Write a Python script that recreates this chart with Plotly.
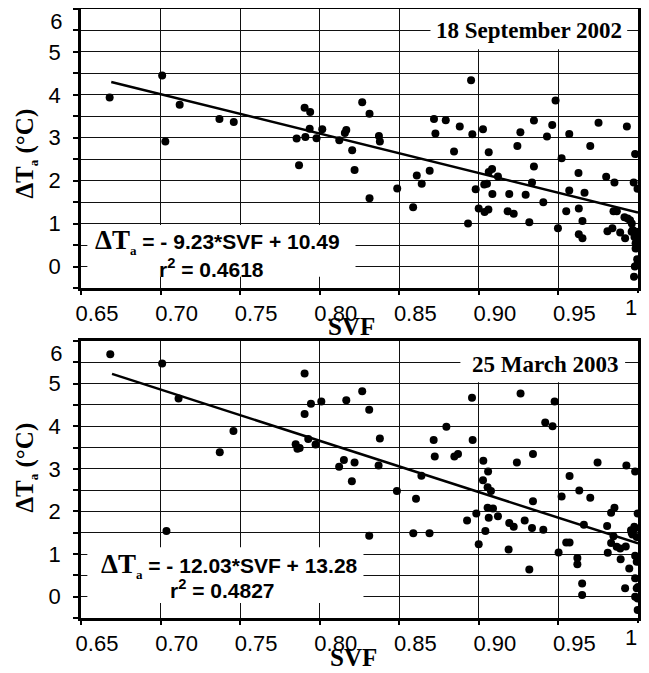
import plotly.graph_objects as go

# ---------------- data ----------------
svf_sep = [0.668, 0.701, 0.703, 0.712, 0.737, 0.746,
           0.7855, 0.787, 0.7905, 0.794, 0.791, 0.7937, 0.798, 0.8016,
           0.8123, 0.8158, 0.8167, 0.8204, 0.8219, 0.8267, 0.8313, 0.8313, 0.8372, 0.8378,
           0.8487, 0.8587, 0.861, 0.8641, 0.8691, 0.8718, 0.8727, 0.8792, 0.8844, 0.888,
           0.8932, 0.8951, 0.8959, 0.898, 0.8999, 0.9026, 0.9034, 0.9051, 0.9036, 0.906,
           0.9062, 0.9062, 0.9083, 0.9085, 0.912, 0.9191, 0.9181, 0.9219, 0.9242, 0.9261,
           0.9294, 0.9317, 0.9334, 0.9346, 0.9346, 0.9405, 0.9428, 0.9461, 0.9482, 0.9497,
           0.952, 0.9549, 0.9568, 0.9568, 0.9626, 0.9628, 0.9628, 0.9651, 0.9651, 0.9664,
           0.970, 0.9752, 0.980, 0.9808, 0.9839, 0.9846, 0.9867, 0.9852, 0.9888, 0.9915,
           0.9935, 0.995, 0.9919, 0.993, 0.9961, 0.9967, 0.9973, 0.9982, 0.9997,
           0.996, 0.9992, 0.9978, 0.9995, 0.9985, 0.9985, 0.9995, 0.998, 0.9995, 0.9975]
dta_sep = [3.94, 4.45, 2.91, 3.77, 3.44, 3.37,
           2.98, 2.36, 3.70, 3.60, 3.02, 3.21, 2.99, 3.20,
           2.94, 3.11, 3.18, 2.71, 2.25, 3.83, 3.56, 1.59, 3.04, 2.91,
           1.82, 1.38, 2.12, 1.93, 2.23, 3.44, 3.10, 3.41, 2.68, 3.26,
           1.00, 4.34, 3.08, 1.80, 1.35, 3.20, 1.91, 1.93, 1.27, 1.33,
           2.66, 2.20, 2.27, 1.69, 2.10, 1.69, 1.29, 1.23, 2.81, 3.13,
           1.67, 1.03, 1.96, 2.33, 3.40, 1.50, 3.03, 3.30, 3.87, 0.89,
           2.52, 1.29, 3.09, 1.77, 2.18, 1.35, 0.75, 0.66, 1.06, 1.72,
           2.81, 3.35, 2.09, 0.82, 0.89, 1.29, 1.29, 1.96, 0.79, 1.15,
           1.12, 1.08, 0.66, 3.26, 1.00, 0.85, 1.96, 2.62, 1.81,
           0.81, 0.81, 0.69, 0.71, 0.54, 0.42, 0.17, 0.00, 0.04, -0.24]

svf_mar = [0.6684, 0.701, 0.7037, 0.7113, 0.7372, 0.7458,
           0.7905, 0.7905, 0.7945, 0.801, 0.7849, 0.786, 0.7874, 0.7928, 0.7974,
           0.8122, 0.8152, 0.8167, 0.8202, 0.8219, 0.8267, 0.8311, 0.8311, 0.8378, 0.837,
           0.8485, 0.8588, 0.8605, 0.8639, 0.869, 0.8716, 0.8723, 0.8796, 0.8846, 0.8869,
           0.8926, 0.8957, 0.8961, 0.8984, 0.8999, 0.9026, 0.9028, 0.9041, 0.9055, 0.9058,
           0.9076, 0.9055, 0.9089, 0.9062, 0.912,
           0.9187, 0.9191, 0.9219, 0.9239, 0.9262, 0.9288, 0.9317, 0.9334, 0.934, 0.934,
           0.9405, 0.9417, 0.9463, 0.9476,
           0.9501, 0.952, 0.9549, 0.957, 0.957, 0.9619, 0.9619, 0.9631, 0.9649, 0.9649,
           0.966, 0.970, 0.9746,
           0.981, 0.9806, 0.9831, 0.9852, 0.9846, 0.9831, 0.9866, 0.9888, 0.9891, 0.9923,
           0.9919, 0.9927, 0.9945,
           0.9956, 0.9977, 0.9992, 0.9965, 0.9982, 0.9998, 0.9982, 0.9992, 0.9982, 0.9992,
           1.0, 0.9982, 0.9998, 0.9998, 0.996, 0.998]
dta_mar = [5.69, 5.47, 1.54, 4.65, 3.39, 3.89,
           5.24, 4.29, 4.53, 4.58, 3.58, 3.47, 3.49, 3.70, 3.57,
           3.05, 3.21, 4.61, 2.71, 3.15, 4.82, 4.39, 1.43, 3.71, 3.08,
           2.48, 1.49, 2.30, 2.84, 1.49, 3.68, 3.29, 3.99, 3.29, 3.35,
           1.79, 4.67, 3.68, 1.95, 1.23, 2.73, 3.19, 1.54, 2.57, 2.94,
           2.48, 2.09, 2.07, 1.85, 1.89,
           1.11, 1.73, 1.64, 3.15, 4.77, 1.79, 0.64, 1.61, 3.35, 2.24,
           1.57, 4.09, 4.00, 4.58,
           1.04, 2.35, 1.27, 1.27, 2.83, 0.91, 0.76, 2.49, 0.31, 0.04,
           1.69, 2.32, 3.15,
           1.03, 1.66, 1.97, 2.09, 1.42, 1.26, 1.17, 1.13, 0.88, 1.18,
           0.20, 3.08, 0.66,
           1.56, 1.64, 1.40, 1.46, 2.94, 1.95, 0.96, 0.82, 0.43, 0.20,
           0.23, 0.00, -0.04, -0.31, 1.50, 1.60]

# regression lines (end points)
fit_x_sep = [0.669, 1.0]
fit_y_sep = [4.30, 1.26]
fit_x_mar = [0.6695, 1.0]
fit_y_mar = [5.23, 1.25]

eq_sep = "= - 9.23*SVF + 10.49"
r2_sep = "0.4618"
eq_mar = "= - 12.03*SVF + 13.28"
r2_mar = "0.4827"
title_sep = "18 September 2002"
title_mar = "25 March 2003"

x_tickvals = [0.65, 0.70, 0.75, 0.80, 0.85, 0.90, 0.95]
x_ticktext = ["0.65", "0.70", "0.75", "0.80", "0.85", "0.90", "0.95"]
x_last_tick = [1.0]
x_last_text = ["1"]
y_tickvals = [0, 1, 2, 3, 4, 5]
y_ticktext = ["0", "1", "2", "3", "4", "5"]
y_top_tick = [6]
y_top_text = ["6"]

# ---------------- figure ----------------
# The page body has an 8 px margin, so the figure is 8 px smaller than the window.
SANS = "Liberation Sans"
SERIF = "Liberation Serif"
tickfont = dict(family=SANS, size=22, color="black")

fig = go.Figure()
for xs, ys, fx, fy, xa, ya in [(svf_sep, dta_sep, fit_x_sep, fit_y_sep, "x", "y"),
                               (svf_mar, dta_mar, fit_x_mar, fit_y_mar, "x2", "y2")]:
    fig.add_trace(go.Scatter(x=xs, y=ys, mode="markers", xaxis=xa, yaxis=ya,
                             marker=dict(size=8, color="black"), showlegend=False,
                             hoverinfo="skip"))
    fig.add_trace(go.Scatter(x=fx, y=fy, mode="lines", xaxis=xa, yaxis=ya,
                             line=dict(color="black", width=2.5), showlegend=False,
                             hoverinfo="skip"))
for xa, ya in [("x3", "y3"), ("x4", "y4")]:
    fig.add_trace(go.Scatter(x=[None], y=[None], xaxis=xa, yaxis=ya, showlegend=False,
                             hoverinfo="skip"))

GRID = "#111111"
main_x = dict(range=[0.65, 1.0], tickvals=x_tickvals, ticktext=x_ticktext,
              ticklabelshift=16,
              ticks="outside", ticklen=4, tickwidth=1.5, tickcolor="black",
              showgrid=True, gridcolor=GRID, gridwidth=1.3, showline=True, mirror=True,
              linecolor="black", linewidth=2.5, zeroline=False, tickfont=tickfont,
              automargin=False)
main_y = dict(range=[-0.5, 6], tickvals=y_tickvals, ticktext=y_ticktext,
              ticks="outside", ticklen=5, tickwidth=1.5, tickcolor="black",
              minor=dict(dtick=0.5, tick0=0, ticks="outside", ticklen=5, tickwidth=1.5,
                         tickcolor="black", showgrid=True, gridcolor=GRID, gridwidth=1.3),
              showgrid=True, gridcolor=GRID, gridwidth=1.3, showline=True, mirror=True,
              linecolor="black", linewidth=2.5, zeroline=False, tickfont=tickfont,
              ticklabelstandoff=8, automargin=False)
over_x = dict(range=[0.65, 1.0], tickvals=x_last_tick, ticktext=x_last_text,
              ticklabelposition="outside left",
              ticks="outside", ticklen=4, tickwidth=1.5, tickcolor="black",
              showgrid=False, showline=False, zeroline=False, tickfont=tickfont,
              automargin=False)
over_y = dict(range=[-0.5, 6], tickvals=y_top_tick, ticktext=y_top_text,
              ticklabelshift=12, ticks="outside", ticklen=5, tickwidth=1.5,
              tickcolor="black", showgrid=False, showline=False, zeroline=False,
              tickfont=tickfont, ticklabelstandoff=8, automargin=False)

top_dom = [0.5419, 1.0]
bot_dom = [0.0, 0.4548]
fig.update_layout(
    width=641, height=665,
    margin=dict(l=72.5, r=10.5, t=1, b=55, autoexpand=False),
    paper_bgcolor="white", plot_bgcolor="white",
    xaxis=dict(main_x, anchor="y"),
    yaxis=dict(main_y, anchor="x", domain=top_dom),
    xaxis2=dict(main_x, anchor="y2"),
    yaxis2=dict(main_y, anchor="x2", domain=bot_dom),
    xaxis3=dict(over_x, overlaying="x", anchor="y3"),
    yaxis3=dict(over_y, overlaying="y", anchor="x3"),
    xaxis4=dict(over_x, overlaying="x2", anchor="y4"),
    yaxis4=dict(over_y, overlaying="y2", anchor="x4"),
)

# white boxes behind texts (hide the grid)
boxes = [("x", "y", 0.654, 0.8225, -0.24, 0.97),
         ("x", "y", 0.8696, 0.9932, 5.06, 6.0),
         ("x2", "y2", 0.654, 0.8275, -0.15, 1.16),
         ("x2", "y2", 0.8884, 0.9919, 5.03, 6.0)]
for xr, yr, x0, x1, y0, y1 in boxes:
    fig.add_shape(type="rect", xref=xr, yref=yr, x0=x0, x1=x1, y0=y0, y1=y1,
                  fillcolor="white", line=dict(width=0), layer="between")

dT = ("<span style='font-family:Liberation Serif;font-size:27px'>ΔT"
      "<sub><span style='font-size:13px'>a</span></sub></span>")
dT_axis = "ΔT<sub><span style='font-size:13px'>a</span></sub> (°C)"
ann = [
    dict(xref="x", yref="y", x=0.9314, y=5.51, text=title_sep,
         font=dict(family=SERIF, size=23, color="black", weight="bold")),
    dict(xref="x2", yref="y2", x=0.9417, y=5.46, text=title_mar,
         font=dict(family=SERIF, size=23, color="black", weight="bold")),
    dict(xref="x", yref="y", x=0.7355, y=0.58, text=dT + " " + eq_sep,
         font=dict(family=SANS, size=21, color="black", weight="bold")),
    dict(xref="x", yref="y", x=0.7322, y=-0.04, text="r<sup>2</sup> = " + r2_sep,
         font=dict(family=SANS, size=21, color="black", weight="bold")),
    dict(xref="x2", yref="y2", x=0.743, y=0.74, text=dT + " " + eq_mar,
         font=dict(family=SANS, size=21, color="black", weight="bold")),
    dict(xref="x2", yref="y2", x=0.739, y=0.17, text="r<sup>2</sup> = " + r2_mar,
         font=dict(family=SANS, size=21, color="black", weight="bold")),
    dict(xref="paper", yref="paper", x=-0.0995, y=0.7619, text=dT_axis,
         textangle=-90, font=dict(family=SERIF, size=25, color="black", weight="bold")),
    dict(xref="paper", yref="paper", x=-0.0995, y=0.2463, text=dT_axis,
         textangle=-90, font=dict(family=SERIF, size=25, color="black", weight="bold")),
    dict(xref="paper", yref="paper", x=0.4848, y=0.4790, text="SVF",
         yanchor="middle",
         font=dict(family=SERIF, size=25, color="black", weight="bold")),
    dict(xref="paper", yref="paper", x=0.4884, y=-0.0903, text="SVF",
         yanchor="bottom",
         font=dict(family=SERIF, size=25, color="black", weight="bold")),
]
for a in ann:
    a.setdefault("yanchor", "middle")
    fig.add_annotation(showarrow=False, xanchor="center", **a)

fig.write_html("out.html")
